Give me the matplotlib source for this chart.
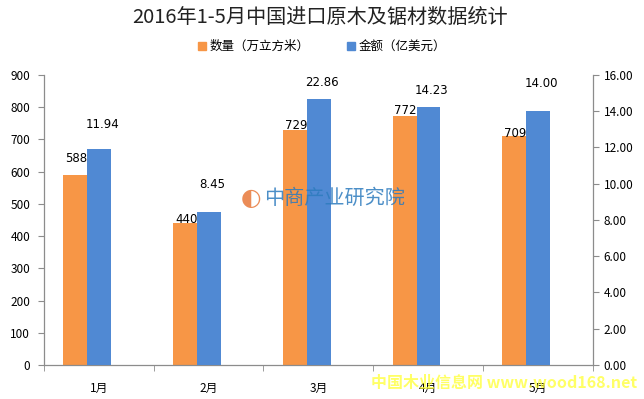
import matplotlib
matplotlib.use("Agg")
import matplotlib.pyplot as plt
import numpy as np
from matplotlib.patches import Patch

plt.rcParams['font.family'] = ['Noto Sans CJK SC', 'DejaVu Sans']

categories = ["1月", "2月", "3月", "4月", "5月"]
volume = [588, 440, 729, 772, 709]            # 数量（万立方米）
amount_bar = [11.94, 8.45, 14.68, 14.23, 14.00]  # bar heights as drawn (亿美元)
amount_labels = ["11.94", "8.45", "22.86", "14.23", "14.00"]
volume_labels = ["588", "440", "729", "772", "709"]
left_ticks = [0, 100, 200, 300, 400, 500, 600, 700, 800, 900]
right_ticks = [0, 2, 4, 6, 8, 10, 12, 14, 16]

ORANGE = "#F79646"
BLUE = "#5089D3"
AXC = "#8C8C8C"

fig = plt.figure(figsize=(6.44, 3.99), dpi=100)
ax = fig.add_axes([0.0683, 0.0852, 0.852, 0.727])
ax2 = ax.twinx()

x = np.arange(len(categories))
w = 0.218
b1 = ax.bar(x - 0.214, volume, width=w, color=ORANGE, zorder=2)
b2 = ax2.bar(x + 0.004, amount_bar, width=w, color=BLUE, zorder=2)

ax.set_xlim(-0.5, len(categories) - 0.5)
ax.set_ylim(0, 900)
ax2.set_ylim(0, 16)
ax.set_yticks(left_ticks)
ax2.set_yticks(right_ticks)
ax2.set_yticklabels([f"{v:.2f}" for v in right_ticks])

ax.set_xticks(x)
ax.set_xticklabels(categories)
ax.set_xticks(np.arange(len(categories) + 1) - 0.5, minor=True)
ax.tick_params(axis='x', which='major', length=0, pad=12, labelsize=8.5, colors='black')
ax.tick_params(axis='x', which='minor', length=4, color=AXC, direction='out')
ax.tick_params(axis='y', length=4, color=AXC, labelsize=8.5, pad=6)
ax2.tick_params(axis='y', length=4, color=AXC, labelsize=8.5, pad=4)

for a in (ax, ax2):
    a.spines['top'].set_visible(False)
    for s in ('left', 'right', 'bottom'):
        a.spines[s].set_color(AXC)
        a.spines[s].set_linewidth(0.9)
ax.spines['right'].set_visible(False)
ax2.spines['left'].set_visible(False)
ax2.spines['bottom'].set_visible(False)

# data labels
vol_off = [12, 3, 3, 4, 2]
amt_off = [17, 20, 12, 12, 20]
for i, r in enumerate(b1):
    ax.annotate(volume_labels[i], (r.get_x() + r.get_width() / 2 + 0.01, r.get_height()),
                xytext=(0, vol_off[i]), textcoords='offset points',
                ha='center', va='center', fontsize=8.5, family='DejaVu Sans', zorder=5)
for i, r in enumerate(b2):
    ax2.annotate(amount_labels[i], (r.get_x() + r.get_width() / 2 + 0.03, r.get_height()),
                 xytext=(0, amt_off[i]), textcoords='offset points',
                 ha='center', va='center', fontsize=8.5, family='DejaVu Sans', zorder=5)

# title
fig.text(0.497, 0.957, "2016年1-5月中国进口原木及锯材数据统计", ha='center', va='center',
         fontsize=14.5, color='#222222')

# legend
handles = [Patch(color=ORANGE, label="数量（万立方米）"), Patch(color=BLUE, label="金额（亿美元）")]
fig.legend(handles=handles, loc='center', bbox_to_anchor=(0.5, 0.883), ncol=2, frameon=False,
           fontsize=9, handlelength=0.6, handleheight=0.6, handletextpad=0.3, columnspacing=3.0)

# watermarks
fig.text(0.519, 0.503, "中商产业研究院", ha='center', va='center', fontsize=14.5,
         color='#2D7BBE', alpha=0.85, zorder=10)
fig.text(0.390, 0.503, "◐", ha='center', va='center', fontsize=17, color='#E8783A',
         family=['DejaVu Sans'], alpha=0.85, zorder=10)
fig.text(0.783, 0.04, "中国木业信息网 www.wood168.net", ha='center', va='center', fontsize=11.5,
         color='#FFFF33', alpha=0.75, fontweight='bold', zorder=10)

fig.savefig("out.png", dpi=100)
